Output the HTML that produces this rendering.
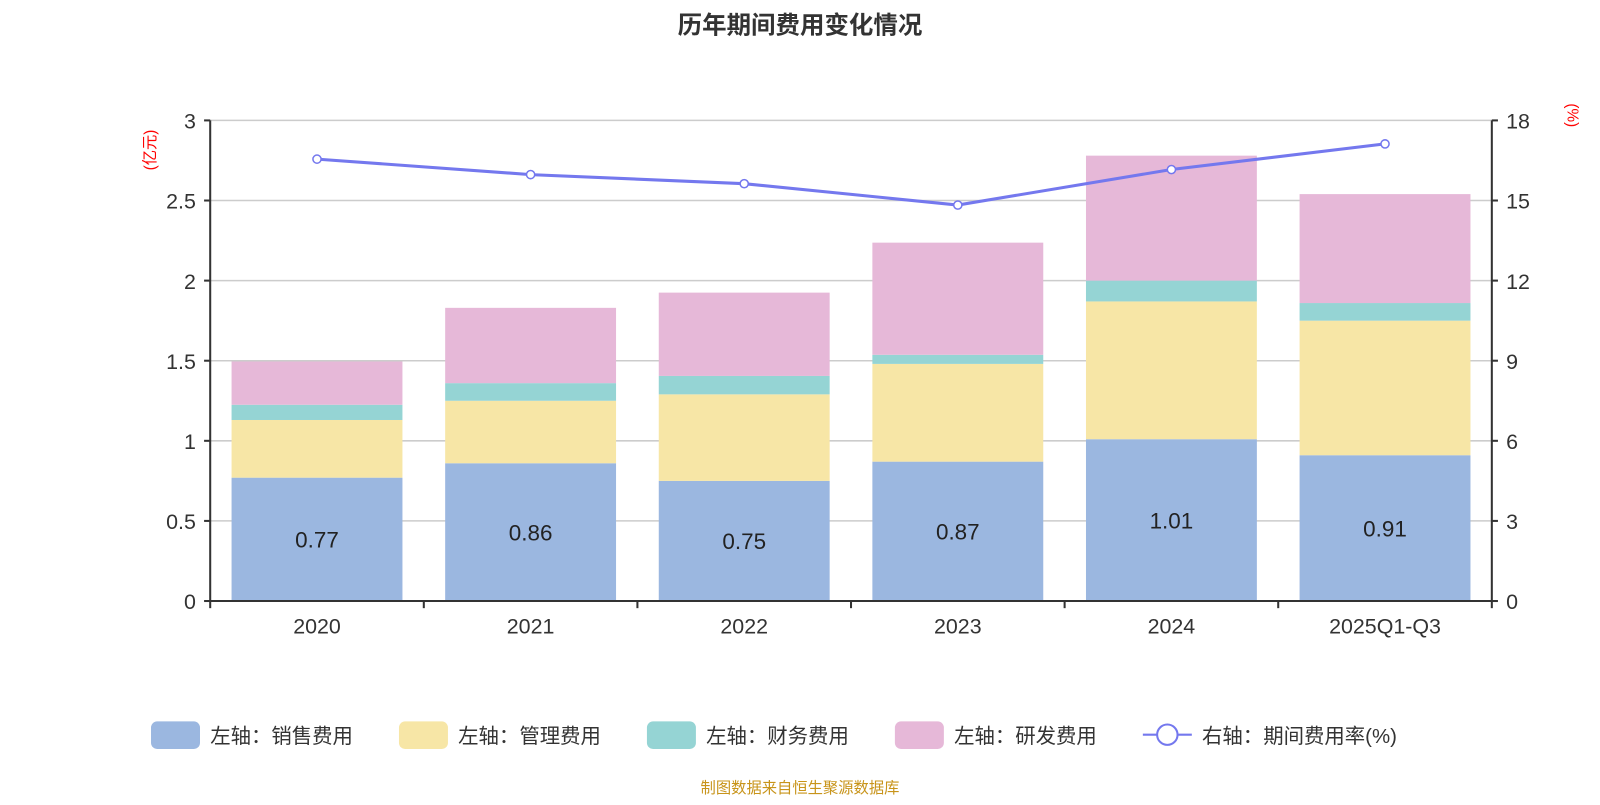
<!DOCTYPE html>
<html><head><meta charset="utf-8"><style>
body{margin:0;background:#fff;}
svg{font-family:"Liberation Sans","Noto Sans CJK SC",sans-serif;}
</style></head><body>
<svg id="c" width="1600" height="800" xmlns="http://www.w3.org/2000/svg">
<g transform="scale(1.0204)">
<text x="784" y="33" text-anchor="middle" font-size="24" font-weight="bold" fill="#333">历年期间费用变化情况</text>
<text transform="translate(152,147) rotate(-90)" text-anchor="middle" font-size="15" fill="red">(亿元)</text>
<text transform="translate(1536,113) rotate(90)" text-anchor="middle" font-size="15" fill="red">(%)</text>
<g id="grid"></g><g id="bars"></g><g id="line"></g><g id="axes"></g>
<g id="legend" font-size="20" fill="#333">
<rect x="148" y="707" width="48" height="27" rx="6" fill="#9bb7e0"/><text x="206" y="728">左轴：销售费用</text>
<rect x="391" y="707" width="48" height="27" rx="6" fill="#f7e6a6"/><text x="449" y="728">左轴：管理费用</text>
<rect x="634" y="707" width="48" height="27" rx="6" fill="#95d4d4"/><text x="692" y="728">左轴：财务费用</text>
<rect x="877" y="707" width="48" height="27" rx="6" fill="#e6b8d8"/><text x="935" y="728">左轴：研发费用</text>
<line x1="1120" y1="720" x2="1168" y2="720" stroke="#7478ee" stroke-width="2"/><circle cx="1144" cy="720" r="10" fill="#fff" stroke="#7478ee" stroke-width="2"/><text x="1178" y="728">右轴：期间费用率(%)</text>
</g>
<text x="784" y="777" text-anchor="middle" font-size="15" fill="#c8941a">制图数据来自恒生聚源数据库</text>
</g>
</svg>
<script>
const categories=["2020","2021","2022","2023","2024","2025Q1-Q3"];
const sales=[0.77,0.86,0.75,0.87,1.01,0.91];
const mgmt=[0.36,0.39,0.54,0.61,0.86,0.84];
const fin=[0.095,0.11,0.115,0.057,0.13,0.11];
const rd=[0.27,0.47,0.52,0.70,0.78,0.68];
const rate=[16.55,15.97,15.63,14.83,16.16,17.12];
const leftTicks=["0","0.5","1","1.5","2","2.5","3"];
const rightTicks=["0","3","6","9","12","15","18"];
const NS="http://www.w3.org/2000/svg";
const X0=206,X1=1462,Y0=589,Y1=118;
const bw=(X1-X0)/categories.length;
const yL=v=>Y0-(v/3)*(Y0-Y1);
const yR=v=>Y0-(v/18)*(Y0-Y1);
const xc=i=>X0+bw*(i+0.5);
function mk(t,a,p){const e=document.createElementNS(NS,t);for(const k in a)e.setAttribute(k,a[k]);p.appendChild(e);return e;}
const grid=document.getElementById('grid'),bars=document.getElementById('bars'),line=document.getElementById('line'),axes=document.getElementById('axes');
leftTicks.forEach((t,i)=>{const y=yL(i*0.5);
 if(i>0){const g=mk('line',{x1:X0,x2:X1,y1:y,y2:y,stroke:'#ccc','stroke-width':1.5},grid);}
 mk('line',{x1:X0-6,x2:X0,y1:y,y2:y,stroke:'#333','stroke-width':2},axes);
 const l=mk('text',{x:X0-14,y:y+8,'text-anchor':'end','font-size':21,fill:'#333'},axes);l.textContent=t;
 
});
rightTicks.forEach((t,i)=>{const y=yR(i*3);
 mk('line',{x1:X1,x2:X1+6,y1:y,y2:y,stroke:'#333','stroke-width':2},axes);
 const l=mk('text',{x:X1+14,y:y+8,'font-size':21,fill:'#333'},axes);l.textContent=t;
 
});
mk('line',{x1:X0,x2:X0,y1:Y1,y2:Y0,stroke:'#333','stroke-width':2},axes);
mk('line',{x1:X1,x2:X1,y1:Y1,y2:Y0,stroke:'#333','stroke-width':2},axes);
mk('line',{x1:X0,x2:X1,y1:Y0,y2:Y0,stroke:'#333','stroke-width':2},axes);
for(let i=0;i<=categories.length;i++){mk('line',{x1:X0+bw*i,x2:X0+bw*i,y1:Y0,y2:Y0+7,stroke:'#333','stroke-width':2},axes);}
const series=[[sales,'#9bb7e0','sales'],[mgmt,'#f7e6a6','mgmt'],[fin,'#95d4d4','fin'],[rd,'#e6b8d8','rd']];
categories.forEach((c,i)=>{
 let base=0;const w=bw*0.8,x=xc(i)-w/2;
 series.forEach(([arr,col,nm])=>{const r=mk('rect',{x:x,y:yL(base+arr[i]),width:w,height:yL(base)-yL(base+arr[i]),fill:col},bars);
  base+=arr[i];});
 const v=mk('text',{x:xc(i),y:(yL(0)+yL(sales[i]))/2+8,'text-anchor':'middle','font-size':22,fill:'#222'},bars);v.textContent=sales[i].toFixed(2);
 
 const l=mk('text',{x:xc(i),y:Y0+32,'text-anchor':'middle','font-size':21,fill:'#333'},axes);l.textContent=c;
 
});
const pl=mk('polyline',{points:rate.map((v,i)=>xc(i)+','+yR(v)).join(' '),fill:'none',stroke:'#7478ee','stroke-width':3},line);

rate.forEach((v,i)=>{const p=mk('circle',{cx:xc(i),cy:yR(v),r:4,fill:'#fff',stroke:'#7478ee','stroke-width':1.5},line);
 });
</script>
</body></html>
